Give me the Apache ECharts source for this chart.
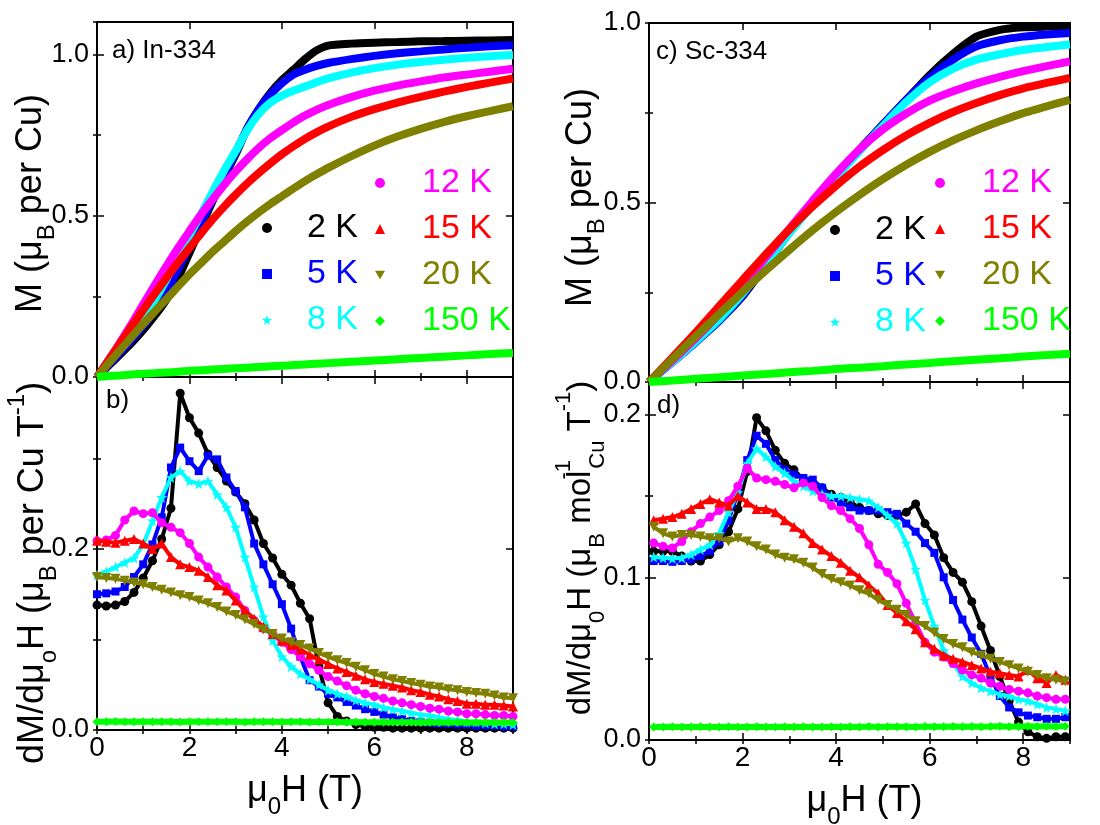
<!DOCTYPE html>
<html><head><meta charset="utf-8">
<script src="https://cdn.jsdelivr.net/npm/echarts@6.0.0/dist/echarts.min.js"></script>
<style>html,body{margin:0;padding:0;background:#fff}#c{width:1100px;height:825px}</style>
</head><body><div id="c"></div>
<script>
// ---------- data ----------
const seriesNames = ['2 K','5 K','8 K','12 K','15 K','20 K','150 K'];
const seriesColors = ['#000000','#0000ff','#00ffff','#ff00ff','#ff0000','#808000','#00ff00'];

// panel a: M(H), In-334
const xsA = [0,0.25,0.5,0.75,1,1.25,1.5,1.75,2,2.25,2.5,2.75,3,3.25,3.5,3.75,4,4.25,4.5,4.75,5,5.5,6,6.5,7,7.5,8,8.5,9];
const a2K  = [0,0.035,0.07,0.106,0.146,0.19,0.24,0.305,0.385,0.465,0.545,0.62,0.69,0.77,0.83,0.88,0.92,0.952,0.985,1.012,1.027,1.033,1.036,1.038,1.04,1.041,1.042,1.043,1.044];
const a5K  = [0,0.038,0.076,0.116,0.158,0.205,0.262,0.333,0.405,0.478,0.552,0.625,0.695,0.77,0.83,0.875,0.91,0.937,0.952,0.964,0.973,0.985,0.995,1.003,1.009,1.015,1.02,1.025,1.028];
const a8K  = [0,0.044,0.089,0.135,0.184,0.239,0.302,0.371,0.438,0.505,0.573,0.64,0.7,0.765,0.815,0.85,0.872,0.887,0.9,0.913,0.925,0.943,0.957,0.968,0.976,0.983,0.989,0.994,0.998];
const a12K = [0,0.052,0.107,0.165,0.225,0.285,0.343,0.399,0.452,0.503,0.55,0.595,0.637,0.675,0.71,0.74,0.765,0.789,0.81,0.828,0.843,0.867,0.887,0.903,0.916,0.928,0.937,0.946,0.955];
const a15K = [0,0.052,0.104,0.157,0.208,0.258,0.307,0.354,0.4,0.445,0.488,0.528,0.565,0.6,0.632,0.662,0.69,0.715,0.738,0.758,0.776,0.806,0.83,0.85,0.868,0.884,0.899,0.912,0.925];
const a20K = [0,0.042,0.083,0.124,0.164,0.203,0.241,0.28,0.318,0.353,0.388,0.42,0.452,0.482,0.51,0.536,0.56,0.584,0.607,0.628,0.648,0.684,0.717,0.745,0.769,0.79,0.808,0.824,0.839];
const a150K= [0,0.003,0.005,0.008,0.01,0.012,0.014,0.016,0.019,0.021,0.023,0.025,0.027,0.029,0.031,0.033,0.035,0.037,0.039,0.041,0.043,0.047,0.051,0.055,0.059,0.063,0.067,0.071,0.074];

// panel b: dM/dH, In-334
const xsB = [0,0.2,0.4,0.6,0.8,1,1.2,1.4,1.6,1.8,2,2.2,2.4,2.6,2.8,3,3.2,3.4,3.6,3.8,4,4.2,4.4,4.6,4.8,5,5.2,5.4,5.6,5.8,6,6.2,6.4,6.6,6.8,7,7.2,7.4,7.6,7.8,8,8.2,8.4,8.6,8.8,9];
const b2K  = [0.138,0.137,0.138,0.142,0.152,0.168,0.187,0.211,0.245,0.372,0.345,0.328,0.305,0.29,0.275,0.263,0.25,0.232,0.206,0.19,0.172,0.16,0.14,0.123,0.07,0.03,0.015,0.01,0.006,0.004,0.003,0.003,0.002,0.002,0.002,0.002,0.002,0.002,0.002,0.002,0.002,0.002,0.002,0.002,0.002,0.002];
const b5K  = [0.15,0.151,0.153,0.158,0.169,0.183,0.205,0.235,0.29,0.312,0.297,0.286,0.303,0.299,0.279,0.264,0.246,0.206,0.183,0.161,0.139,0.112,0.081,0.055,0.048,0.04,0.036,0.031,0.027,0.023,0.02,0.017,0.014,0.012,0.01,0.009,0.008,0.007,0.007,0.006,0.006,0.005,0.005,0.005,0.004,0.004];
const b8K  = [0.171,0.175,0.18,0.185,0.19,0.205,0.231,0.257,0.279,0.286,0.275,0.272,0.275,0.26,0.246,0.224,0.191,0.158,0.125,0.099,0.081,0.07,0.062,0.056,0.05,0.044,0.04,0.037,0.033,0.03,0.028,0.025,0.023,0.021,0.019,0.017,0.016,0.014,0.012,0.011,0.009,0.009,0.008,0.007,0.007,0.006];
const b12K = [0.209,0.21,0.215,0.232,0.242,0.239,0.24,0.229,0.224,0.218,0.206,0.191,0.18,0.169,0.158,0.147,0.132,0.121,0.112,0.106,0.097,0.089,0.081,0.073,0.066,0.059,0.054,0.049,0.044,0.04,0.037,0.035,0.032,0.03,0.028,0.026,0.024,0.023,0.021,0.02,0.018,0.018,0.017,0.016,0.016,0.015];
const b15K = [0.209,0.208,0.207,0.209,0.211,0.206,0.2,0.206,0.191,0.183,0.18,0.176,0.169,0.16,0.154,0.143,0.132,0.123,0.114,0.106,0.099,0.094,0.089,0.083,0.078,0.073,0.068,0.064,0.06,0.056,0.053,0.051,0.049,0.047,0.044,0.042,0.039,0.037,0.034,0.032,0.029,0.029,0.028,0.028,0.027,0.026];
const b20K = [0.169,0.168,0.167,0.165,0.163,0.161,0.158,0.155,0.152,0.149,0.147,0.143,0.14,0.136,0.131,0.127,0.122,0.117,0.111,0.106,0.101,0.097,0.094,0.09,0.085,0.081,0.077,0.074,0.07,0.066,0.062,0.059,0.056,0.054,0.052,0.05,0.048,0.047,0.045,0.044,0.042,0.041,0.04,0.038,0.036,0.035];
const b150K= [0.009,0.009,0.0095,0.009,0.009,0.009,0.0092,0.009,0.009,0.0088,0.009,0.009,0.009,0.0092,0.009,0.009,0.0088,0.009,0.009,0.009,0.0088,0.009,0.009,0.0088,0.009,0.0088,0.0088,0.0086,0.0088,0.0086,0.0086,0.0085,0.0086,0.0085,0.0085,0.0084,0.0085,0.0084,0.0083,0.0084,0.0083,0.0083,0.0082,0.0083,0.0082,0.0082];

// panel c: M(H), Sc-334
const xsC = [0,0.5,1,1.5,2,2.5,3,3.5,4,4.5,5,5.5,6,6.5,7,7.5,8,8.5,9];
const c2K  = [0,0.058,0.114,0.172,0.239,0.327,0.416,0.497,0.574,0.647,0.717,0.786,0.855,0.914,0.962,0.981,0.988,0.99,0.991];
const c5K  = [0,0.055,0.111,0.17,0.24,0.33,0.417,0.498,0.575,0.647,0.717,0.786,0.848,0.898,0.935,0.952,0.962,0.968,0.972];
const c8K  = [0,0.056,0.113,0.174,0.246,0.33,0.414,0.493,0.569,0.643,0.713,0.78,0.835,0.873,0.898,0.913,0.925,0.933,0.94];
const c12K = [0,0.06,0.122,0.19,0.267,0.348,0.427,0.505,0.58,0.648,0.704,0.748,0.784,0.81,0.832,0.85,0.866,0.88,0.893];
const c15K = [0,0.068,0.138,0.211,0.284,0.356,0.425,0.489,0.547,0.6,0.646,0.687,0.722,0.752,0.777,0.799,0.818,0.833,0.847];
const c20K = [0,0.064,0.127,0.189,0.251,0.311,0.368,0.423,0.474,0.521,0.565,0.605,0.641,0.673,0.701,0.726,0.749,0.768,0.786];
const c150K= [0,0.004,0.009,0.013,0.018,0.022,0.027,0.031,0.036,0.04,0.044,0.049,0.053,0.058,0.062,0.066,0.071,0.075,0.079];

// panel d: dM/dH, Sc-334
const xsD = [0.1,0.3,0.5,0.7,0.9,1.1,1.3,1.5,1.7,1.9,2.1,2.3,2.5,2.7,2.9,3.1,3.3,3.5,3.7,3.9,4.1,4.3,4.5,4.7,4.9,5.1,5.3,5.5,5.7,5.9,6.1,6.3,6.5,6.7,6.9,7.1,7.3,7.5,7.7,7.9,8.1,8.3,8.5,8.7,8.9];
const d2K  = [0.116,0.116,0.116,0.113,0.11,0.11,0.114,0.12,0.128,0.142,0.165,0.198,0.19,0.178,0.17,0.166,0.16,0.157,0.155,0.151,0.149,0.146,0.143,0.141,0.139,0.138,0.138,0.14,0.145,0.133,0.126,0.112,0.103,0.097,0.085,0.07,0.055,0.039,0.024,0.011,0.005,0.002,0.001,0.002,0.002];
const d5K  = [0.11,0.11,0.1095,0.11,0.111,0.113,0.116,0.122,0.135,0.152,0.172,0.187,0.182,0.172,0.166,0.163,0.161,0.16,0.155,0.149,0.146,0.143,0.141,0.141,0.141,0.14,0.139,0.133,0.128,0.121,0.115,0.1,0.086,0.074,0.063,0.053,0.039,0.027,0.02,0.017,0.015,0.014,0.013,0.013,0.014];
const d8K  = [0.1125,0.112,0.1115,0.112,0.114,0.117,0.12,0.127,0.14,0.152,0.17,0.179,0.174,0.168,0.164,0.159,0.156,0.153,0.151,0.15,0.15,0.149,0.148,0.147,0.143,0.138,0.133,0.121,0.105,0.086,0.07,0.055,0.047,0.039,0.035,0.032,0.03,0.028,0.027,0.025,0.024,0.022,0.02,0.019,0.018];
const d12K = [0.121,0.119,0.118,0.122,0.128,0.133,0.137,0.141,0.147,0.156,0.167,0.161,0.16,0.159,0.157,0.155,0.158,0.156,0.149,0.144,0.141,0.136,0.13,0.12,0.108,0.103,0.096,0.084,0.072,0.06,0.054,0.051,0.047,0.043,0.04,0.038,0.035,0.033,0.031,0.03,0.029,0.027,0.026,0.025,0.025];
const d15K = [0.135,0.136,0.137,0.139,0.142,0.145,0.148,0.146,0.144,0.15,0.146,0.142,0.142,0.14,0.135,0.131,0.127,0.121,0.117,0.113,0.109,0.104,0.1,0.095,0.09,0.083,0.078,0.073,0.068,0.06,0.056,0.052,0.05,0.048,0.046,0.044,0.042,0.041,0.04,0.039,0.043,0.038,0.035,0.04,0.037];
const d20K = [0.131,0.127,0.125,0.126,0.126,0.125,0.124,0.124,0.122,0.124,0.122,0.119,0.117,0.114,0.112,0.111,0.109,0.106,0.102,0.099,0.097,0.095,0.092,0.09,0.086,0.083,0.08,0.077,0.073,0.07,0.066,0.062,0.059,0.057,0.054,0.052,0.05,0.048,0.046,0.044,0.042,0.04,0.038,0.037,0.036];
const d150K= [0.008,0.008,0.0082,0.008,0.008,0.0082,0.008,0.008,0.0081,0.008,0.008,0.0082,0.008,0.008,0.0081,0.008,0.0082,0.008,0.008,0.0081,0.008,0.0082,0.008,0.0083,0.008,0.0082,0.0081,0.0082,0.008,0.0083,0.0082,0.0081,0.0083,0.0082,0.0083,0.0082,0.0083,0.0084,0.0082,0.0083,0.0084,0.0083,0.0084,0.0083,0.0084];

// axis tick definitions
const xRange = {min:0, max:9, major:2, minor:1};
const yRanges = [
  {min:0, max:1.1,  major:0.5, minor:0.25},
  {min:0, max:0.39, major:0.2, minor:0.1},
  {min:0, max:1.0,  major:0.5, minor:0.25},
  {min:0, max:0.22, major:0.1, minor:0.05}
];

// ---------- styling ----------
const FONT = 'Liberation Sans, Arial, Helvetica, sans-serif';
const STAR = 'path://M5,0L6.176,3.382L9.755,3.455L6.902,5.618L7.939,9.045L5,7L2.061,9.045L3.098,5.618L0.245,3.455L3.824,3.382Z';
const DOWN = 'path://M0,0L10,0L5,8.66Z';
const symbols = ['circle','rect',STAR,'circle','triangle',DOWN,'diamond'];
const symSizes = [9,8,11,9,10,10,9];

const rects = [
  {left:97,  top:22,  width:416, height:355},
  {left:97,  top:377, width:416, height:353},
  {left:649, top:23,  width:421, height:359},
  {left:649, top:382, width:421, height:358}
];

function richSet(sfs) {
  return {
    sub:  {fontSize:sfs, fontFamily:FONT, color:'#000', lineHeight:36, verticalAlign:'bottom'},
    sup:  {fontSize:sfs, fontFamily:FONT, color:'#000', lineHeight:sfs, verticalAlign:'top'},
    supw: {fontSize:sfs, fontFamily:FONT, color:'#000', lineHeight:sfs, verticalAlign:'top', width:2, align:'left'}
  };
}
function nameStyle(fs, sfs, padding) {
  return {fontSize:fs, fontFamily:FONT, color:'#000', lineHeight:56, padding:padding, rich:richSet(sfs)};
}

const yNames = [
  'M (μ{sub|B} per Cu)',
  'dM/dμ{sub|o}H (μ{sub|B} per Cu T{sup|-1})',
  'M (μ{sub|B} per Cu)',
  'dM/dμ{sub|0}H (μ{sub|B} mol{supw|-1}{sub|Cu} T{sup|-1})'
];
const yNameFonts = [[36,24],[36,24],[36,24],[33,22]];
const yNameGaps = [38, 36, 40, 40];
const yNamePads = [[0,8,0,0],[0,39,0,0],[0,0,0,10],[0,0,0,26]];
const xName = 'μ{sub|0}H (T)';
const xNameGaps = [0, 31, 0, 27];
const xNamePads = [[0,0,0,0],[0,0,0,0],[0,0,0,0],[0,0,0,10]];

const grid = [], xAxis = [], yAxis = [];
for (let p = 0; p < 4; p++) {
  grid.push(Object.assign({containLabel:false, outerBoundsMode:'none'}, rects[p]));
  grid.push(Object.assign({containLabel:false, outerBoundsMode:'none'}, rects[p]));
  const gMaj = 2*p, gMin = 2*p+1;
  const showX = (p === 1 || p === 3);
  const lineS = {show:true, onZero:false, lineStyle:{color:'#000', width:2}};
  const tickMaj = {show:true, inside:true, length:7, lineStyle:{color:'#000', width:1.5}};
  const tickMin = {show:true, inside:true, length:4, lineStyle:{color:'#000', width:1.5}};
  xAxis.push({type:'value', gridIndex:gMaj, position:'bottom', min:xRange.min, max:xRange.max, interval:xRange.major,
    axisLine:lineS, axisTick:tickMaj, splitLine:{show:false},
    axisLabel:{show:showX, showMaxLabel:false, margin:4, fontSize:28, fontFamily:FONT, color:'#000',
      alignMinLabel:'center', alignMaxLabel:'center', formatter:v=>String(v)},
    name: showX ? xName : '', nameLocation:'middle', nameGap:xNameGaps[p], nameTextStyle:nameStyle(36, 24, xNamePads[p])});
  xAxis.push({type:'value', gridIndex:gMaj, position:'top', min:xRange.min, max:xRange.max, interval:xRange.major,
    axisLine:lineS, axisTick:tickMaj, splitLine:{show:false}, axisLabel:{show:false}});
  xAxis.push({type:'value', gridIndex:gMin, position:'bottom', min:xRange.min, max:xRange.max, interval:xRange.minor,
    axisLine:{show:false}, axisTick:tickMin, splitLine:{show:false}, axisLabel:{show:false}});
  xAxis.push({type:'value', gridIndex:gMin, position:'top', min:xRange.min, max:xRange.max, interval:xRange.minor,
    axisLine:{show:false}, axisTick:tickMin, splitLine:{show:false}, axisLabel:{show:false}});
  const yr = yRanges[p];
  yAxis.push({type:'value', gridIndex:gMaj, position:'left', min:yr.min, max:yr.max, interval:yr.major,
    axisLine:lineS, axisTick:tickMaj, splitLine:{show:false},
    axisLabel:{show:true, showMaxLabel:(p===2), margin:8, fontSize:27, fontFamily:FONT, color:'#000',
      verticalAlignMinLabel:'middle', verticalAlignMaxLabel:'middle', formatter:v=>v.toFixed(1)},
    name:yNames[p], nameLocation:'middle', nameRotate:90, nameGap:yNameGaps[p], nameMoveOverlap:false,
    nameTextStyle:nameStyle(yNameFonts[p][0], yNameFonts[p][1], yNamePads[p])});
  yAxis.push({type:'value', gridIndex:gMaj, position:'right', min:yr.min, max:yr.max, interval:yr.major,
    axisLine:lineS, axisTick:tickMaj, splitLine:{show:false}, axisLabel:{show:false}});
  yAxis.push({type:'value', gridIndex:gMin, position:'left', min:yr.min, max:yr.max, interval:yr.minor,
    axisLine:{show:false}, axisTick:tickMin, splitLine:{show:false}, axisLabel:{show:false}});
  yAxis.push({type:'value', gridIndex:gMin, position:'right', min:yr.min, max:yr.max, interval:yr.minor,
    axisLine:{show:false}, axisTick:tickMin, splitLine:{show:false}, axisLabel:{show:false}});
}

function makeSeries(p, xs, list, isM) {
  return list.map((ys, i) => ({
    type:'line', name:seriesNames[i], xAxisIndex:4*p, yAxisIndex:4*p,
    data: xs.map((x, j) => [x, ys[j]]),
    smooth: isM ? 0.2 : false,
    showSymbol: !isM, symbol: isM ? 'none' : symbols[i], symbolSize: symSizes[i],
    lineStyle: {width: isM ? 8 : (i === 6 ? 6 : 4), color: seriesColors[i]},
    itemStyle: {color: seriesColors[i]},
    emphasis: {disabled:true}, silent:true, animation:false, z: 2 + i
  }));
}

const series = [].concat(
  makeSeries(0, xsA, [a2K,a5K,a8K,a12K,a15K,a20K,a150K], true),
  makeSeries(1, xsB, [b2K,b5K,b8K,b12K,b15K,b20K,b150K], false),
  makeSeries(2, xsC, [c2K,c5K,c8K,c12K,c15K,c20K,c150K], true),
  makeSeries(3, xsD, [d2K,d5K,d8K,d12K,d15K,d20K,d150K], false)
);

function legendItems(idx) {
  return idx.map(i => ({name:seriesNames[i], icon:symbols[i], textStyle:{color:seriesColors[i]}}));
}
function legendAt(left, top, idx, pad) {
  return {left:left, top:top, orient:'vertical', padding:0, itemGap:12, itemWidth:10, itemHeight:10,
    selectedMode:false, textStyle:{fontSize:34, fontFamily:FONT, lineHeight:34, padding:[0,0,0,pad]},
    data:legendItems(idx)};
}

const option = {
  animation:false,
  backgroundColor:'#ffffff',
  textStyle:{fontFamily:FONT},
  grid:grid, xAxis:xAxis, yAxis:yAxis, series:series,
  legend:[
    legendAt(262, 211, [0,1,2], 30),
    legendAt(375, 166, [3,4,5,6], 32),
    legendAt(830, 213, [0,1,2], 30),
    legendAt(935, 166, [3,4,5,6], 32)
  ],
  graphic:[
    {type:'text', x:112, y:51, style:{text:'a) In-334', fontSize:26, fontFamily:FONT, fill:'#000', align:'left', verticalAlign:'middle'}},
    {type:'text', x:106, y:401, style:{text:'b)', fontSize:26, fontFamily:FONT, fill:'#000', align:'left', verticalAlign:'middle'}},
    {type:'text', x:656, y:52, style:{text:'c) Sc-334', fontSize:26, fontFamily:FONT, fill:'#000', align:'left', verticalAlign:'middle'}},
    {type:'text', x:657, y:406, style:{text:'d)', fontSize:26, fontFamily:FONT, fill:'#000', align:'left', verticalAlign:'middle'}}
  ]
};

const chart = echarts.init(document.getElementById('c'), null, {renderer:'canvas'});
chart.setOption(option);
</script>
</body></html>
